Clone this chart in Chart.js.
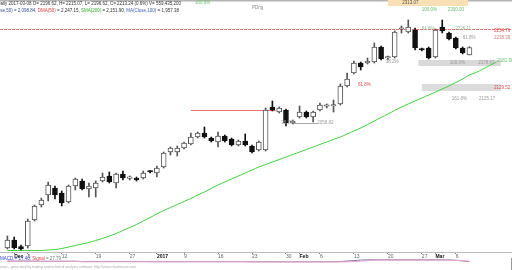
<!DOCTYPE html>
<html>
<head>
<meta charset="utf-8">
<script src="https://cdn.jsdelivr.net/npm/chart.js@4.4.0/dist/chart.umd.min.js"></script>
<style>
html, body { margin: 0; padding: 0; background: #fff; overflow: hidden; }
#wrap { position: relative; width: 512px; height: 270px; }
#main { position: absolute; left: 0; top: 0; }
#sub { position: absolute; left: 0; top: 255px; }
</style>
</head>
<body>
<div id="wrap">
  <canvas id="main" width="512" height="258"></canvas>
  <canvas id="sub" width="512" height="15"></canvas>
</div>
<script>
// trading days, 2016-11-30 .. 2017-03-08
const dates = ['11-30',
  '12-01','12-02','12-05','12-06','12-07','12-08','12-09','12-12','12-13','12-14','12-15','12-16',
  '12-19','12-20','12-21','12-22','12-23','12-27','12-28','12-29','12-30',
  '01-03','01-04','01-05','01-06','01-09','01-10','01-11','01-12','01-13','01-16','01-17','01-18',
  '01-19','01-20','01-23','01-24','01-25','01-26','01-27','01-30','01-31',
  '02-01','02-02','02-03','02-06','02-07','02-08','02-09','02-10','02-13','02-14','02-15','02-16',
  '02-17','02-20','02-21','02-22','02-23','02-24','02-27','02-28',
  '03-01','03-02','03-03','03-06','03-07','03-08'];

const open = [1764.2,1782.1,1767.6,1768.7,1826.9,1860.5,1882.9,1898.6,1887.4,1867.2,
  1903.1,1914.3,1896.4,1898.6,1914.3,1925.5,1909.8,1930.0,1920.3,1921.0,
  1921.0,1936.7,1932.2,1945.6,1979.2,1979.2,1988.2,1997.2,2012.8,2021.8,
  2010.6,2001.6,2015.1,2008.4,1994.9,2003.9,1992.7,1983.7,1983.7,2080.0,
  2068.8,2073.3,2044.2,2057.6,2068.8,2057.6,2073.3,2081.8,2082.3,2086.8,
  2127.1,2156.2,2178.6,2178.6,2180.8,2214.4,2189.8,2192.0,2254.3,2248.0,
  2252.5,2210.0,2212.2,2192.0,2259.2,2245.8,2234.6,2212.2,2196.62];
const high = [1791.1,1788.8,1770.9,1829.2,1860.5,1876.2,1912.0,1903.1,1891.9,1905.3,
  1921.0,1918.8,1909.8,1914.3,1932.2,1934.4,1932.2,1936.7,1925.5,1923.2,
  1936.7,1937.8,1947.9,1979.2,1990.4,1992.7,2001.6,2021.8,2024.0,2035.2,
  2012.8,2024.0,2017.3,2010.6,2006.1,2019.6,1994.9,2003.9,2077.8,2093.5,
  2080.0,2075.6,2050.9,2082.3,2071.1,2071.1,2089.0,2086.8,2095.7,2131.6,
  2156.2,2183.1,2180.8,2189.8,2223.4,2216.7,2194.3,2250.3,2261.5,2274.9,
  2257.0,2212.2,2214.4,2254.8,2274.9,2248.0,2236.8,2214.4,2215.07];
const low = [1762.0,1762.0,1759.7,1764.2,1824.7,1856.0,1869.5,1874.0,1858.3,1865.0,
  1894.1,1894.1,1878.4,1878.4,1912.0,1909.8,1898.6,1916.5,1916.5,1914.3,
  1918.8,1932.2,1923.2,1943.4,1972.5,1970.3,1986.0,1994.9,2010.6,2010.6,
  2001.6,1990.4,2001.6,1992.7,1992.7,1992.7,1977.0,1981.5,1981.5,2071.1,
  2066.6,2037.5,2042.0,2055.4,2055.4,2046.4,2071.1,2077.8,2068.8,2084.5,
  2124.8,2154.0,2162.9,2176.4,2178.6,2185.3,2185.3,2189.8,2245.8,2245.8,
  2207.7,2205.5,2187.6,2189.8,2245.8,2230.1,2210.0,2198.8,2196.62];
const close = [1782.1,1764.2,1762.0,1824.7,1858.3,1871.7,1905.3,1882.9,1865.0,1903.1,
  1918.8,1896.4,1903.1,1909.8,1923.2,1912.0,1930.0,1921.0,1921.0,1916.5,
  1932.2,1934.4,1943.4,1977.0,1988.2,1988.2,1999.4,2012.8,2021.8,2012.8,
  2003.9,2015.1,2003.9,1994.9,2003.9,1994.9,1979.2,2001.6,2073.3,2073.3,
  2077.8,2044.2,2048.7,2068.8,2057.6,2068.8,2084.5,2082.3,2082.7,2127.1,
  2142.8,2178.6,2169.6,2183.1,2214.4,2187.6,2190.5,2248.0,2254.8,2259.2,
  2212.2,2207.7,2189.8,2252.5,2250.3,2232.4,2212.2,2201.0,2213.24];

// SMA(200), runs a few slots past the last bar
const sma200 = [1758.6,1758.6,1758.6,1758.6,1758.6,1758.6,1759.7,1760.8,1763.1,1766.4,
  1769.8,1773.2,1776.5,1781.0,1785.5,1791.1,1796.6,1803.4,1810.1,1816.8,
  1824.7,1832.5,1840.4,1848.2,1854.9,1861.6,1868.4,1875.1,1882.9,1889.6,
  1897.5,1905.3,1912.0,1918.8,1925.5,1932.2,1938.9,1945.6,1951.2,1956.8,
  1962.4,1968.0,1973.6,1979.2,1984.8,1990.4,1996.1,2001.6,2007.2,2012.8,
  2019.6,2026.3,2033.0,2040.8,2048.7,2056.5,2064.4,2072.2,2080.0,2086.8,
  2093.5,2100.2,2106.9,2113.6,2120.4,2127.1,2134.9,2142.8,2151.9,2157.3,
  2165.2,2173.0,2180.8];

// lower panel
const macd = [5.8,5.8,5.8,5.8,5.4,5.4,5.4,5.4,5.4,5.4,
  5.4,5.0,5.0,5.0,5.0,5.0,5.0,5.0,5.0,5.0,
  5.0,4.7,4.7,4.7,4.7,4.7,4.7,4.7,4.7,4.7,
  4.7,4.7,4.7,4.7,4.7,4.7,4.5,4.5,4.5,4.5,
  4.5,4.5,4.5,4.5,4.5,4.5,4.5,4.5,4.5,5.0,
  5.8,6.6,7.3,7.8,7.8,7.8,7.8,7.8,7.8,7.8,
  7.8,7.8,7.8,7.8,7.8,7.6,7.0,6.0,4.6];
const signal = [5.3,5.3,5.3,5.3,5.3,5.3,5.3,5.3,5.3,5.3,
  5.3,4.6,4.6,4.6,4.6,4.6,4.6,4.6,4.6,4.6,
  4.6,4.6,4.6,4.6,4.6,4.6,4.6,4.6,4.6,4.6,
  4.6,4.6,4.6,4.6,4.6,4.6,4.3,4.3,4.3,4.3,
  4.3,4.3,4.3,4.3,4.3,4.3,4.3,4.3,4.3,4.3,
  4.3,4.8,5.6,6.4,6.9,7.2,7.2,7.2,7.2,7.2,
  7.2,7.2,7.2,7.2,7.2,7.2,7.0,6.4,5.5];

const tickIdx = [1, 3, 8, 13, 18, 22, 26, 31, 36, 41, 43, 46, 51, 56, 61, 63, 66];
const tickText = ['Dec', '5', '12', '19', '27', '2017', '9', '16', '23', '30', 'Feb', '6', '13', '20', '27', 'Mar', '6'];
const boldTicks = ['Dec', '2017', 'Feb', 'Mar'];
const spareSlots = 4;

const FONT = 'Liberation Sans';
const labels = dates.concat(Array(spareSlots).fill(''));
const wicks = dates.map((d, i) => [low[i], high[i]]);
const bodies = dates.map((d, i) => [open[i], close[i]]);
const isUp = dates.map((d, i) => close[i] >= open[i]);

function tickLabel(i) {
    const k = tickIdx.indexOf(i);
    return k < 0 ? '' : tickText[k];
}

// levels and notes drawn over the price pane (x in bar slots, y in price)
const bands = [
    { from: 60.5, to: 72.6, top: 2185.3, bottom: 2171.9, color: '#d9d9d9' },
    { from: 61, to: 72.6, top: 2131.6, bottom: 2115.9, color: '#dcdcdc' }
];
const levels = [
    { from: 27, to: 39.5, value: 2073.3, color: '#f07070' },
    { from: 42, to: 45.7, value: 2044.2, color: '#aaaaaa' }
];
const notes = [
    ['100.0%', 61.0, 2297.3, '#6cbf6c'], ['2300.00', 64.8, 2297.3, '#6cbf6c'],
    ['61.8%', 61.0, 2255.3, '#8db58d'], ['2226.11', 65.9, 2256.0, '#8db58d'],
    ['2254.76', 71.6, 2250.3, '#e05050'],
    ['61.8%', 67.0, 2234.6, '#999999'], ['2238.39', 71.6, 2234.6, '#d08080'],
    ['38.2%', 55.7, 2180.8, '#999999'],
    ['100.0%', 65.1, 2178.6, '#999999'], ['2178.63', 69.3, 2178.6, '#999999'], ['2181.90', 72.1, 2183.0, '#6cbf6c'],
    ['61.8%', 51.6, 2129.3, '#e05050'], ['2129.52', 71.6, 2123.7, '#e05050'],
    ['161.8%', 65.4, 2099.1, '#999999'], ['2125.17', 69.4, 2099.1, '#999999'],
    ['38.2%', 40.3, 2044.2, '#999999'], ['2058.82', 45.6, 2044.2, '#999999']
];

function text(ctx, s, x, y, color, size, align, weight) {
    ctx.font = (weight || 'normal') + ' ' + size + 'px "' + FONT + '"';
    ctx.fillStyle = color;
    ctx.textAlign = align || 'left';
    ctx.textBaseline = 'middle';
    ctx.fillText(s, x, y);
}

const overlay = {
    id: 'overlay',
    beforeDatasetsDraw(chart) {
        const { ctx, scales: { x, y } } = chart;
        ctx.save();
        bands.forEach(b => {
            const x0 = x.getPixelForValue(b.from), x1 = x.getPixelForValue(b.to);
            const y0 = y.getPixelForValue(b.top), y1 = y.getPixelForValue(b.bottom);
            ctx.fillStyle = b.color;
            ctx.fillRect(x0, y0, x1 - x0, y1 - y0);
        });
        ctx.lineWidth = 1;
        levels.forEach(l => {
            const yy = Math.round(y.getPixelForValue(l.value)) + 0.5;
            ctx.strokeStyle = l.color;
            ctx.beginPath();
            ctx.moveTo(x.getPixelForValue(l.from), yy);
            ctx.lineTo(x.getPixelForValue(l.to), yy);
            ctx.stroke();
        });
        // resistance across the whole width
        const ry = Math.round(y.getPixelForValue(2254.76)) + 0.5;
        ctx.strokeStyle = '#f07070';
        ctx.setLineDash([3, 1]);
        ctx.beginPath(); ctx.moveTo(0, ry); ctx.lineTo(chart.width, ry); ctx.stroke();
        ctx.setLineDash([]);
        ctx.restore();
    },
    afterDatasetsDraw(chart) {
        const { ctx, scales: { x, y } } = chart;
        ctx.save();
        notes.forEach(n => text(ctx, n[0], x.getPixelForValue(n[1]), y.getPixelForValue(n[2]), n[3], 4.5));
        ctx.restore();
    },
    afterDraw(chart) {
        const { ctx, chartArea, scales: { x, y } } = chart;
        ctx.save();
        // top frame line
        ctx.fillStyle = '#b4b4b4';
        ctx.fillRect(0, 0, chart.width, 1.5);
        // high marker box
        const bx0 = x.getPixelForValue(56), bx1 = x.getPixelForValue(67.8);
        const by0 = y.getPixelForValue(2319.7), by1 = y.getPixelForValue(2306.3);
        ctx.fillStyle = '#f8dfb4';
        ctx.fillRect(bx0, by0, bx1 - bx0, by1 - by0);
        text(ctx, '2313.07', x.getPixelForValue(59.3), y.getPixelForValue(2313.07), '#555', 4.5, 'center');

        // header
        text(ctx, 'Daily 2017-03-08 O= 2196.62, H= 2215.07, L= 2196.62, C= 2213.24 (0.6%) V= 559,435,200', 181, 4, '#333', 4.5, 'right');
        const parts = [
            ['EMA(Close,50) = 2,098.84, ', '#3a4f9a'],
            ['DMA(50)', '#e03a3a'],
            [' = 2,247.15, ', '#333'],
            ['SMA(200)', '#2fb52f'],
            [' = 2,151.90, ', '#333'],
            ['MA(Close,100)', '#3f5fc0'],
            [' = 1,957.38', '#333']
        ];
        ctx.font = '4.5px "' + FONT + '"';
        let total = 0;
        parts.forEach(p => { total += ctx.measureText(p[0]).width; });
        let px = 179 - total;
        parts.forEach(p => {
            text(ctx, p[0], px, 10.5, p[1], 4.5);
            px += ctx.measureText(p[0]).width;
        });
        text(ctx, '100.0%', 195, 3, '#6cbf6c', 4.5);
        text(ctx, 'PDng', 252, 7.5, '#888', 4.5);

        // axis line, full width
        ctx.strokeStyle = '#bdbdbd';
        ctx.lineWidth = 1;
        ctx.beginPath();
        ctx.moveTo(0, chartArea.bottom + 0.5);
        ctx.lineTo(chart.width, chartArea.bottom + 0.5);
        ctx.stroke();
        ctx.restore();
    }
};

new Chart(document.getElementById('main'), {
    type: 'bar',
    data: {
        labels: labels,
        datasets: [
            {
                type: 'line',
                data: sma200,
                borderColor: '#3fd23f',
                borderWidth: 1,
                pointRadius: 0,
                tension: 0.4,
                order: 3
            },
            {
                data: wicks,
                backgroundColor: dates.map((d, i) => isUp[i] ? '#555' : '#111'),
                barThickness: 1,
                grouped: false,
                order: 2
            },
            {
                data: bodies,
                backgroundColor: dates.map((d, i) => isUp[i] ? '#ffffff' : '#111111'),
                borderColor: dates.map((d, i) => isUp[i] ? '#555555' : '#111111'),
                borderWidth: 1,
                borderSkipped: false,
                barThickness: 5,
                minBarLength: 1.5,
                grouped: false,
                order: 1
            }
        ]
    },
    options: {
        responsive: false,
        animation: false,
        events: [],
        layout: { padding: { left: 4, right: 12, top: 0, bottom: 0 } },
        plugins: {
            legend: { display: false },
            tooltip: { enabled: false }
        },
        scales: {
            x: {
                offset: true,
                border: { display: false },
                grid: {
                    offset: false,
                    drawOnChartArea: false,
                    drawTicks: true,
                    tickLength: 2,
                    color: ctx => tickLabel(ctx.index) ? '#888' : 'rgba(0,0,0,0)'
                },
                ticks: {
                    autoSkip: false,
                    maxRotation: 0,
                    minRotation: 0,
                    align: 'start',
                    padding: 0,
                    color: ctx => boldTicks.includes(tickLabel(ctx.index)) ? '#111' : '#666',
                    font: ctx => ({
                        family: FONT,
                        size: 5,
                        weight: boldTicks.includes(tickLabel(ctx.index)) ? 'bold' : 'normal'
                    }),
                    callback: (v, i) => tickLabel(i)
                },
                afterFit: s => { s.height = 6; }
            },
            y: {
                display: false,
                min: 1755.24,
                max: 2319.72
            }
        }
    },
    plugins: [overlay]
});

const subText = {
    id: 'subText',
    afterDraw(chart) {
        const ctx = chart.ctx;
        ctx.save();
        ctx.font = '4.5px "' + FONT + '"';
        let px = 0;
        [['MACD = 17.40, ', '#3344cc'], ['Signal', '#e04848'], [' = 27.79', '#777']].forEach(p => {
            text(ctx, p[0], px, 3.5, p[1], 4.5);
            px += ctx.measureText(p[0]).width;
        });
        text(ctx, 'www - generated by trading and technical analysis software. http://www.chartnexus.com', 0, 12.5, '#aaa', 3.5);
        ctx.strokeStyle = '#999';
        ctx.beginPath(); ctx.moveTo(511.5, 3); ctx.lineTo(511.5, 15); ctx.stroke();
        ctx.restore();
    }
};

new Chart(document.getElementById('sub'), {
    type: 'line',
    data: {
        labels: labels,
        datasets: [
            { data: signal, borderColor: '#e6a6c8', borderWidth: 1, pointRadius: 0, tension: 0.4 },
            { data: macd, borderColor: '#8a6fb0', borderWidth: 1, pointRadius: 0, tension: 0.4 }
        ]
    },
    options: {
        responsive: false,
        animation: false,
        events: [],
        layout: { padding: { left: 4, right: 12, top: 3.5, bottom: 5.5 } },
        plugins: {
            legend: { display: false },
            tooltip: { enabled: false }
        },
        scales: {
            x: { display: false, offset: true },
            y: { display: false, min: 0, max: 10 }
        }
    },
    plugins: [subText]
});
</script>
</body>
</html>
